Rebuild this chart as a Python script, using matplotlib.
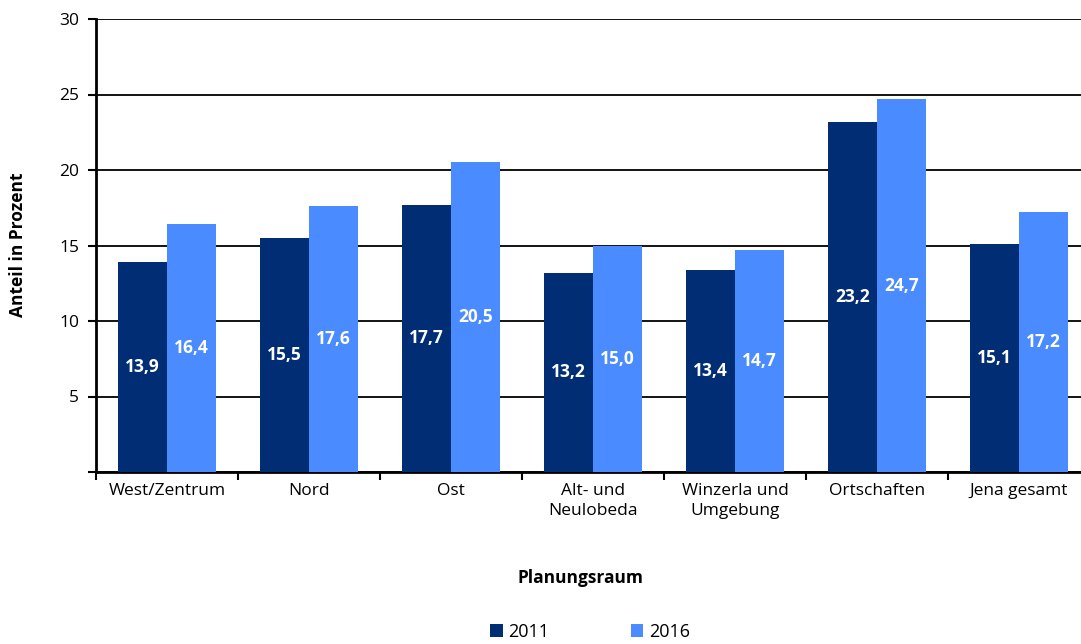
import matplotlib
matplotlib.use("Agg")
import matplotlib.pyplot as plt
import numpy as np

categories = ["West/Zentrum", "Nord", "Ost", "Alt- und\nNeulobeda", "Winzerla und\nUmgebung", "Ortschaften", "Jena gesamt"]
v2011 = [13.9, 15.5, 17.7, 13.2, 13.4, 23.2, 15.1]
v2016 = [16.4, 17.6, 20.5, 15.0, 14.7, 24.7, 17.2]
series_names = ["2011", "2016"]
colors = ["#002D74", "#4A8BFF"]

plt.rcParams['font.family'] = ['Open Sans', 'DejaVu Sans']

fig = plt.figure(figsize=(10.81, 6.44), dpi=100)
ax = fig.add_axes([96/1081, 172/644, 994/1081, 453/644])

x = np.arange(len(categories))
w = 0.345
b1 = ax.bar(x - w/2, v2011, w, color=colors[0], label=series_names[0], zorder=3)
b2 = ax.bar(x + w/2, v2016, w, color=colors[1], label=series_names[1], zorder=3)

for bars, vals in ((b1, v2011), (b2, v2016)):
    for r, v in zip(bars, vals):
        ax.text(r.get_x() + r.get_width()/2, v/2, f"{v:.1f}".replace(".", ","),
                ha="center", va="center", color="white", fontsize=12.5,
                fontweight="bold", zorder=4)

ax.set_xlim(-0.5, len(categories) - 0.5)
ax.set_ylim(0, 30)
ax.set_yticks([0, 5, 10, 15, 20, 25, 30])
ax.set_yticklabels(["", "5", "10", "15", "20", "25", "30"], fontsize=12.5)
ax.yaxis.grid(True, color="black", linewidth=1.3, zorder=0)
ax.set_axisbelow(True)

ax.set_xticks(x)
ax.set_xticklabels(categories, fontsize=12.5, linespacing=1.3)
ax.tick_params(axis="x", length=0, pad=8)
ax.set_xticks(np.arange(len(categories) + 1) - 0.5, minor=True)
ax.tick_params(axis="x", which="minor", length=6, width=1.5, direction="out")
ax.tick_params(axis="y", length=6, width=1.5, direction="out", pad=6)

for s in ("top", "right"):
    ax.spines[s].set_visible(False)
for s in ("left", "bottom"):
    ax.spines[s].set_linewidth(2)
    ax.spines[s].set_color("black")

fig.text(18/1081, 1 - 245/644, "Anteil in Prozent", rotation=90, ha="center", va="center",
         fontsize=12.5, fontweight="bold")
fig.text(580/1081, 1 - 578/644, "Planungsraum", ha="center", va="center",
         fontsize=12.5, fontweight="bold")

leg = fig.legend(handles=[b1, b2], labels=series_names, loc="center",
                 bbox_to_anchor=(590/1081, 1 - 632/644), ncol=2, frameon=False,
                 fontsize=13, handlelength=0.7, handleheight=0.7, handletextpad=0.3,
                 columnspacing=4.5)

fig.savefig("out.png", dpi=100)
